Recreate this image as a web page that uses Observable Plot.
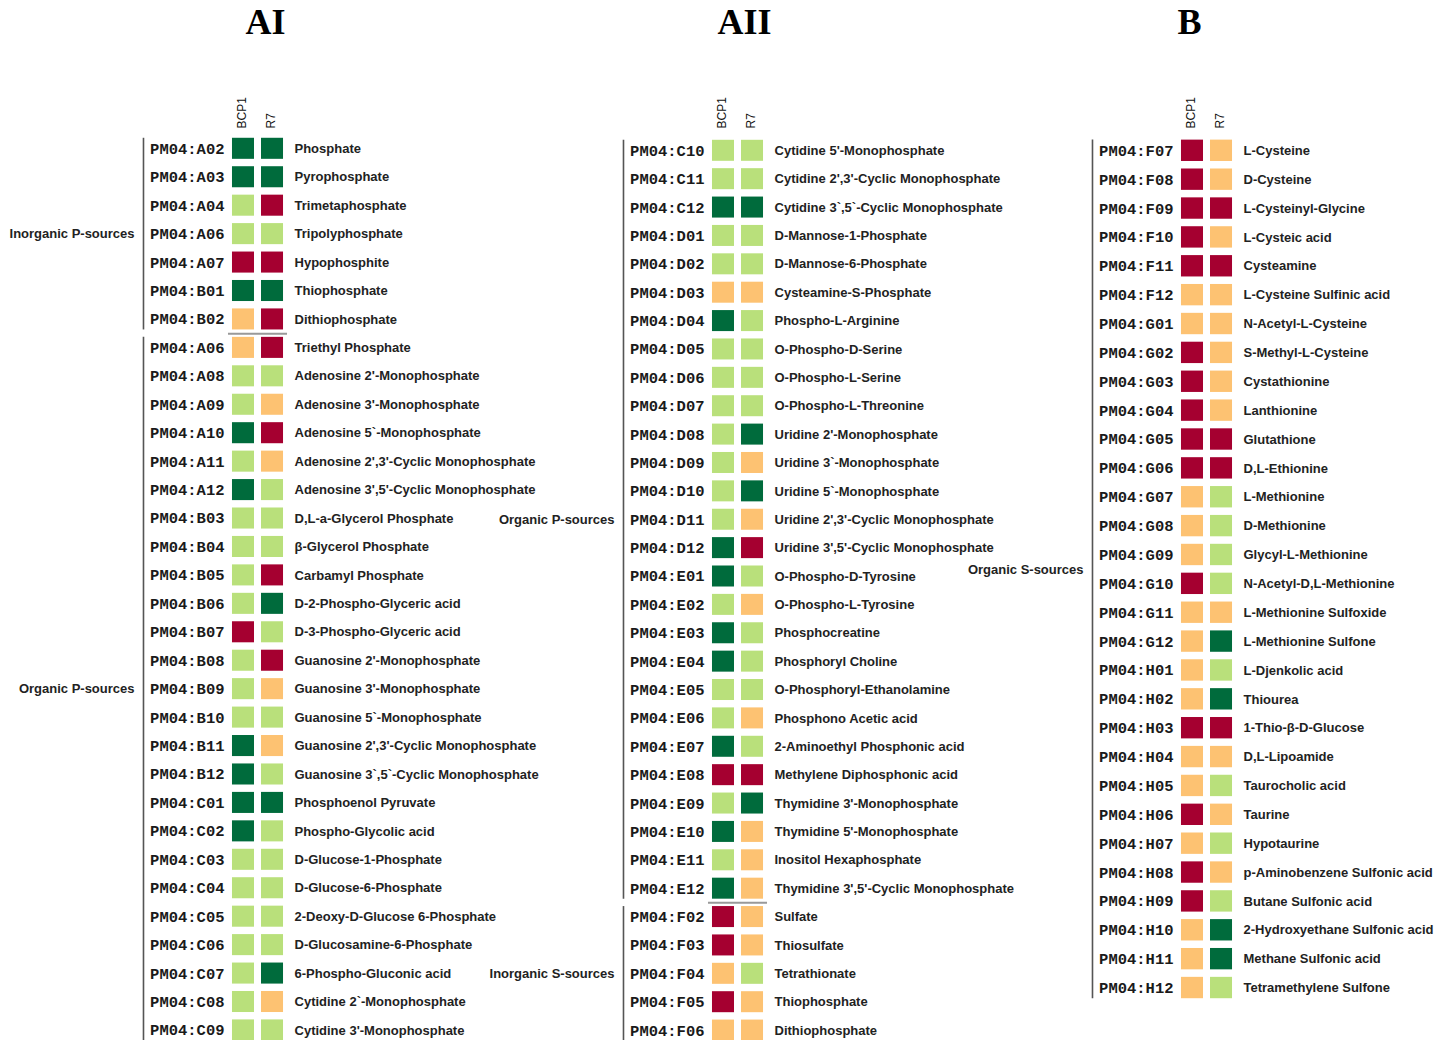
<!DOCTYPE html>
<html><head><meta charset="utf-8">
<script src="https://cdn.jsdelivr.net/npm/d3@7"></script>
<script src="https://cdn.jsdelivr.net/npm/@observablehq/plot@0.6"></script>
<style>
html,body{margin:0;padding:0;background:#fff;overflow:hidden}
#chart{position:relative;width:1450px;height:1040px;overflow:hidden;background:#fff}
.panel{position:absolute;top:0}
.panel svg{max-width:none !important}
</style></head><body><div id="chart"></div>
<script>
// ---------- data ----------
const strains = ["BCP1", "R7"];
const levels = ["DG", "LG", "OR", "RD"];
const levelColors = ["#006b3c", "#b9e07b", "#fdc272", "#a50030"];

// Panel AI
const aiCodes = ["PM04:A02","PM04:A03","PM04:A04","PM04:A06","PM04:A07","PM04:B01","PM04:B02",
  "PM04:A06","PM04:A08","PM04:A09","PM04:A10","PM04:A11","PM04:A12","PM04:B03","PM04:B04","PM04:B05",
  "PM04:B06","PM04:B07","PM04:B08","PM04:B09","PM04:B10","PM04:B11","PM04:B12","PM04:C01","PM04:C02",
  "PM04:C03","PM04:C04","PM04:C05","PM04:C06","PM04:C07","PM04:C08","PM04:C09"];
const aiNames = ["Phosphate","Pyrophosphate","Trimetaphosphate","Tripolyphosphate","Hypophosphite","Thiophosphate","Dithiophosphate",
  "Triethyl Phosphate","Adenosine 2'-Monophosphate","Adenosine 3'-Monophosphate","Adenosine 5`-Monophosphate",
  "Adenosine 2',3'-Cyclic Monophosphate","Adenosine 3',5'-Cyclic Monophosphate","D,L-a-Glycerol Phosphate",
  "β-Glycerol Phosphate","Carbamyl Phosphate","D-2-Phospho-Glyceric acid","D-3-Phospho-Glyceric acid",
  "Guanosine 2'-Monophosphate","Guanosine 3'-Monophosphate","Guanosine 5`-Monophosphate",
  "Guanosine 2',3'-Cyclic Monophosphate","Guanosine 3`,5`-Cyclic Monophosphate","Phosphoenol Pyruvate",
  "Phospho-Glycolic acid","D-Glucose-1-Phosphate","D-Glucose-6-Phosphate","2-Deoxy-D-Glucose 6-Phosphate",
  "D-Glucosamine-6-Phosphate","6-Phospho-Gluconic acid","Cytidine 2`-Monophosphate","Cytidine 3'-Monophosphate"];
const aiBCP1 = ["DG","DG","LG","LG","RD","DG","OR",
  "OR","LG","LG","DG","LG","DG","LG","LG","LG","LG","RD","LG","LG","LG","DG","DG","DG","DG",
  "LG","LG","LG","LG","LG","LG","LG"];
const aiR7 = ["DG","DG","RD","LG","RD","DG","RD",
  "RD","LG","OR","RD","OR","LG","LG","LG","RD","DG","LG","RD","OR","LG","OR","LG","DG","LG",
  "LG","LG","LG","LG","DG","OR","LG"];
const aiGroupLabels = ["Inorganic P-sources", "Organic P-sources"];
const aiGroupStarts = [0, 7];
const aiGroupEnds = [6, 31];

// Panel AII
const aiiCodes = ["PM04:C10","PM04:C11","PM04:C12","PM04:D01","PM04:D02","PM04:D03","PM04:D04","PM04:D05",
  "PM04:D06","PM04:D07","PM04:D08","PM04:D09","PM04:D10","PM04:D11","PM04:D12","PM04:E01","PM04:E02",
  "PM04:E03","PM04:E04","PM04:E05","PM04:E06","PM04:E07","PM04:E08","PM04:E09","PM04:E10","PM04:E11",
  "PM04:E12","PM04:F02","PM04:F03","PM04:F04","PM04:F05","PM04:F06"];
const aiiNames = ["Cytidine 5'-Monophosphate","Cytidine 2',3'-Cyclic Monophosphate","Cytidine 3`,5`-Cyclic Monophosphate",
  "D-Mannose-1-Phosphate","D-Mannose-6-Phosphate","Cysteamine-S-Phosphate","Phospho-L-Arginine",
  "O-Phospho-D-Serine","O-Phospho-L-Serine","O-Phospho-L-Threonine","Uridine 2'-Monophosphate",
  "Uridine 3`-Monophosphate","Uridine 5`-Monophosphate","Uridine 2',3'-Cyclic Monophosphate",
  "Uridine 3',5'-Cyclic Monophosphate","O-Phospho-D-Tyrosine","O-Phospho-L-Tyrosine","Phosphocreatine",
  "Phosphoryl Choline","O-Phosphoryl-Ethanolamine","Phosphono Acetic acid","2-Aminoethyl Phosphonic acid",
  "Methylene Diphosphonic acid","Thymidine 3'-Monophosphate","Thymidine 5'-Monophosphate",
  "Inositol Hexaphosphate","Thymidine 3',5'-Cyclic Monophosphate","Sulfate","Thiosulfate",
  "Tetrathionate","Thiophosphate","Dithiophosphate"];
const aiiBCP1 = ["LG","LG","DG","LG","LG","OR","DG","LG","LG","LG","LG","LG","LG","LG","DG","DG","LG",
  "DG","DG","LG","LG","DG","RD","LG","DG","LG","DG","RD","RD","OR","RD","OR"];
const aiiR7 = ["LG","LG","DG","LG","LG","OR","LG","LG","LG","LG","DG","OR","DG","OR","RD","LG","OR",
  "LG","LG","LG","OR","LG","RD","DG","OR","OR","OR","OR","OR","LG","OR","OR"];
const aiiGroupLabels = ["Organic P-sources", "Inorganic S-sources"];
const aiiGroupStarts = [0, 27];
const aiiGroupEnds = [26, 31];

// Panel B
const bCodes = ["PM04:F07","PM04:F08","PM04:F09","PM04:F10","PM04:F11","PM04:F12","PM04:G01","PM04:G02",
  "PM04:G03","PM04:G04","PM04:G05","PM04:G06","PM04:G07","PM04:G08","PM04:G09","PM04:G10","PM04:G11",
  "PM04:G12","PM04:H01","PM04:H02","PM04:H03","PM04:H04","PM04:H05","PM04:H06","PM04:H07","PM04:H08",
  "PM04:H09","PM04:H10","PM04:H11","PM04:H12"];
const bNames = ["L-Cysteine","D-Cysteine","L-Cysteinyl-Glycine","L-Cysteic acid","Cysteamine",
  "L-Cysteine Sulfinic acid","N-Acetyl-L-Cysteine","S-Methyl-L-Cysteine","Cystathionine","Lanthionine",
  "Glutathione","D,L-Ethionine","L-Methionine","D-Methionine","Glycyl-L-Methionine",
  "N-Acetyl-D,L-Methionine","L-Methionine Sulfoxide","L-Methionine Sulfone","L-Djenkolic acid","Thiourea",
  "1-Thio-β-D-Glucose","D,L-Lipoamide","Taurocholic acid","Taurine","Hypotaurine",
  "p-Aminobenzene Sulfonic acid","Butane Sulfonic acid","2-Hydroxyethane Sulfonic acid",
  "Methane Sulfonic acid","Tetramethylene Sulfone"];
const bBCP1 = ["RD","RD","RD","RD","RD","OR","OR","RD","RD","RD","RD","RD","OR","OR","OR","RD","OR",
  "OR","OR","OR","RD","OR","OR","RD","OR","RD","RD","OR","OR","OR"];
const bR7 = ["OR","OR","RD","OR","RD","OR","OR","OR","OR","OR","RD","RD","LG","LG","LG","LG","OR",
  "DG","LG","DG","RD","OR","LG","OR","LG","OR","LG","DG","DG","LG"];
const bGroupLabels = ["Organic S-sources"];
const bGroupStarts = [0];
const bGroupEnds = [29];

// ---------- layout ----------
const panels = [
  {title: "AI", codes: aiCodes, names: aiNames, bcp1: aiBCP1, r7: aiR7,
   gl: aiGroupLabels, gs: aiGroupStarts, ge: aiGroupEnds, left: 0, firstY: 148.3, step: 28.44, titleX: 265},
  {title: "AII", codes: aiiCodes, names: aiiNames, bcp1: aiiBCP1, r7: aiiR7,
   gl: aiiGroupLabels, gs: aiiGroupStarts, ge: aiiGroupEnds, left: 479.5, firstY: 150.3, step: 28.38, titleX: 264},
  {title: "B", codes: bCodes, names: bNames, bcp1: bBCP1, r7: bR7,
   gl: bGroupLabels, gs: bGroupStarts, ge: bGroupEnds, left: 948.5, firstY: 150.3, step: 28.87, titleX: 240}
];

function makePanel(p) {
  const n = p.codes.length;
  const rows = p.codes.map((code, i) => ({i, code, name: p.names[i]}));
  const cells = rows.flatMap(r => [
    {i: r.i, strain: "BCP1", level: p.bcp1[r.i]},
    {i: r.i, strain: "R7", level: p.r7[r.i]}
  ]);
  const groups = p.gl.map((label, k) => ({label, start: p.gs[k], end: p.ge[k]}));
  const seps = groups.slice(1).map(g => g.start);
  const ML = 228.5, XW = 58, MR = 262;
  const MT = p.firstY - p.step / 2;
  const H = Math.ceil(MT + n * p.step) + 1;
  const W = ML + XW + MR;
  const groupTextMarks = groups.map(g => {
    const mid = (g.start + g.end) / 2;
    return Plot.text([g], {
      y: d => Math.floor((d.start + d.end) / 2), text: "label",
      frameAnchor: "left", dx: -94.5, dy: (mid - Math.floor(mid)) * p.step,
      textAnchor: "end", lineAnchor: "middle", fontWeight: "bold", fontSize: 13, fill: "#222",
      fontFamily: "Liberation Sans, Arial, sans-serif"
    });
  });
  return Plot.plot({
    width: W, height: H,
    marginLeft: ML, marginRight: MR, marginTop: MT, marginBottom: H - MT - n * p.step,
    x: {type: "band", domain: strains, paddingInner: 7 / 29, paddingOuter: 0.12, axis: null, round: false},
    y: {type: "band", domain: d3.range(n), paddingInner: 0.26, paddingOuter: 0.13, axis: null, round: false},
    color: {type: "ordinal", domain: levels, range: levelColors},
    style: {background: "transparent", overflow: "visible", fontFamily: "Liberation Sans, Arial, sans-serif", maxWidth: "none"},
    marks: [
      Plot.cell(cells, {x: "strain", y: "i", fill: "level"}),
      Plot.text(rows, {y: "i", text: "code", frameAnchor: "left", dx: -4.5, textAnchor: "end", lineAnchor: "middle",
        fontFamily: "Liberation Mono, monospace", fontWeight: "bold", fontSize: 15.5, fill: "#1a1a1a"}),
      Plot.text(rows, {x: () => "R7", y: "i", text: "name", dx: 22, textAnchor: "start", lineAnchor: "middle",
        fontWeight: "bold", fontSize: 13, fill: "#222"}),
      Plot.ruleX(groups, {x: () => "BCP1", y1: "start", y2: "end", dx: -100, stroke: "#555", strokeWidth: 1.6}),
      Plot.ruleY(seps, {y: d => d, x1: () => "BCP1", x2: () => "R7", dy: -p.step / 2,
        insetLeft: -4, insetRight: -4, stroke: "#999", strokeWidth: 2}),
      ...groupTextMarks,
      Plot.text(strains, {x: d => d, text: d => d, frameAnchor: "top", dy: 128 - MT, rotate: -90,
        textAnchor: "start", lineAnchor: "middle", dx: -1, fontSize: 12, fill: "#111"}),
      Plot.text([p.title], {frameAnchor: "top-left", dx: p.titleX - ML, dy: 22 - MT, text: d => d,
        textAnchor: "middle", lineAnchor: "middle", fontFamily: "Liberation Serif, Times New Roman, serif", fontWeight: "bold",
        fontSize: 36, fill: "#000"})
    ]
  });
}

const chart = document.getElementById("chart");
for (const p of panels) {
  const div = document.createElement("div");
  div.className = "panel";
  div.style.left = p.left + "px";
  div.style.width = (228.5 + 58 + 262) + "px";
  div.appendChild(makePanel(p));
  chart.appendChild(div);
}
</script></body></html>
